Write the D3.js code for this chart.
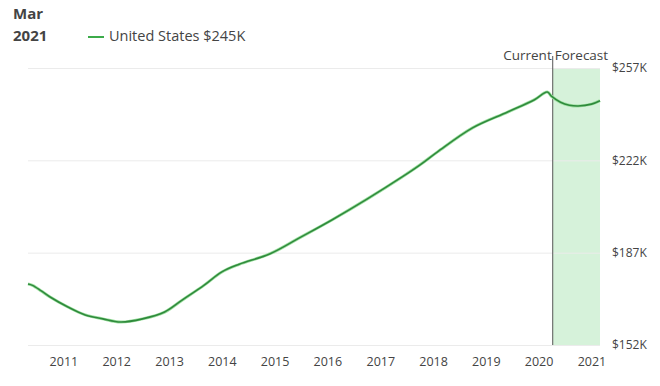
<!DOCTYPE html>
<html>
<head>
<meta charset="utf-8">
<script src="https://cdn.jsdelivr.net/npm/d3@7"></script>
<style>
  body { margin: 0; background: #fff; font-family: "Open Sans", sans-serif; }
  svg text { fill: #444; }
</style>
</head>
<body>
<svg id="chart" width="660" height="386"></svg>
<script>
// home value index, $K
var months = ["2010-05", "2010-06", "2010-08", "2010-10", "2011-02", "2011-06", "2011-10",
              "2012-02", "2012-07", "2012-12", "2013-04", "2013-09", "2014-01", "2014-05",
              "2014-12", "2015-07", "2016-02", "2016-10", "2017-06", "2017-10", "2018-02",
              "2018-10", "2019-06", "2019-12", "2020-03", "2020-04", "2020-06", "2020-08",
              "2020-10", "2021-01", "2021-03"];
var values = [175.1, 174.6, 172.5, 170.2, 166.4, 163.4, 161.9,
              160.7, 161.9, 164.5, 169.0, 174.7, 179.7, 182.6,
              186.6, 192.9, 199.4, 207.3, 215.7, 220.2, 225.2,
              234.3, 240.3, 244.9, 247.9, 246.2, 244.0, 242.9,
              242.6, 243.3, 244.6];
var yTicks = [152, 187, 222, 257];
var xTickYears = [2011, 2012, 2013, 2014, 2015, 2016, 2017, 2018, 2019, 2020, 2021];
var currentMonth = "2020-04";
var headerLines = ["Mar", "2021"];
var legendLabel = "United States $245K";

var parseMonth = d3.timeParse("%Y-%m");
var data = months.map(function(m, i) { return { date: parseMonth(m), value: values[i] }; });

var svg = d3.select("#chart");

var x = d3.scaleTime()
    .domain([data[0].date, data[data.length - 1].date])
    .range([28, 600]);
var y = d3.scaleLinear()
    .domain([152, 257])
    .range([345, 68]);

// forecast band
var cx = x(parseMonth(currentMonth)) + 1;
svg.append("rect")
    .attr("x", cx)
    .attr("y", y(257))
    .attr("width", x.range()[1] - cx)
    .attr("height", y(152) - y(257))
    .attr("fill", "#d6f2da");

// grid + y labels
var yAxis = svg.append("g")
    .attr("transform", "translate(600,0)")
    .call(d3.axisRight(y).tickValues(yTicks).tickSize(-572).tickPadding(12)
        .tickFormat(function(d) { return "$" + d + "K"; }));
yAxis.select(".domain").remove();
yAxis.selectAll(".tick line").attr("stroke", "#ebebeb");
yAxis.selectAll(".tick text")
    .attr("font-size", 12)
    .attr("font-family", "Open Sans")
    .attr("fill", "#444");

// x labels
var xAxis = svg.append("g")
    .attr("transform", "translate(0,357)")
    .call(d3.axisBottom(x)
        .tickValues(xTickYears.map(function(yr) { return new Date(yr, 0, 1); }))
        .tickSize(0).tickPadding(0)
        .tickFormat(d3.timeFormat("%Y")));
xAxis.select(".domain").remove();
xAxis.selectAll(".tick text")
    .attr("font-size", 12.5)
    .attr("font-family", "Open Sans")
    .attr("fill", "#444");

// current marker
svg.append("line")
    .attr("x1", cx).attr("x2", cx)
    .attr("y1", 56).attr("y2", y(152))
    .attr("stroke", "#555")
    .attr("stroke-width", 1);
svg.append("text")
    .attr("x", cx - 1).attr("y", 60)
    .attr("text-anchor", "end")
    .attr("font-size", 13.5)
    .attr("fill", "#333")
    .text("Current");
svg.append("text")
    .attr("x", cx + 2).attr("y", 60)
    .attr("font-size", 13.5)
    .attr("fill", "#333")
    .text("Forecast");

// the line
var line = d3.line()
    .x(function(d) { return x(d.date); })
    .y(function(d) { return y(d.value); })
    .curve(d3.curveCatmullRom.alpha(0.5));

svg.append("path")
    .datum(data)
    .attr("fill", "none")
    .attr("stroke", "#9ee0a1")
    .attr("stroke-width", 3)
    .attr("d", line);
svg.append("path")
    .datum(data)
    .attr("fill", "none")
    .attr("stroke", "#2f8a3c")
    .attr("stroke-width", 1.6)
    .attr("d", line);

// header
svg.selectAll(".hdr")
    .data(headerLines)
    .enter().append("text")
    .attr("class", "hdr")
    .attr("x", 13)
    .attr("y", function(d, i) { return 19 + i * 22; })
    .attr("font-size", 15)
    .attr("font-weight", "bold")
    .attr("fill", "#333")
    .text(function(d) { return d; });

// legend
svg.append("line")
    .attr("x1", 88).attr("x2", 104)
    .attr("y1", 37).attr("y2", 37)
    .attr("stroke", "#3cab4a")
    .attr("stroke-width", 2);
svg.append("text")
    .attr("x", 109).attr("y", 41)
    .attr("font-size", 14.5)
    .attr("fill", "#444")
    .text(legendLabel);
</script>
</body>
</html>
